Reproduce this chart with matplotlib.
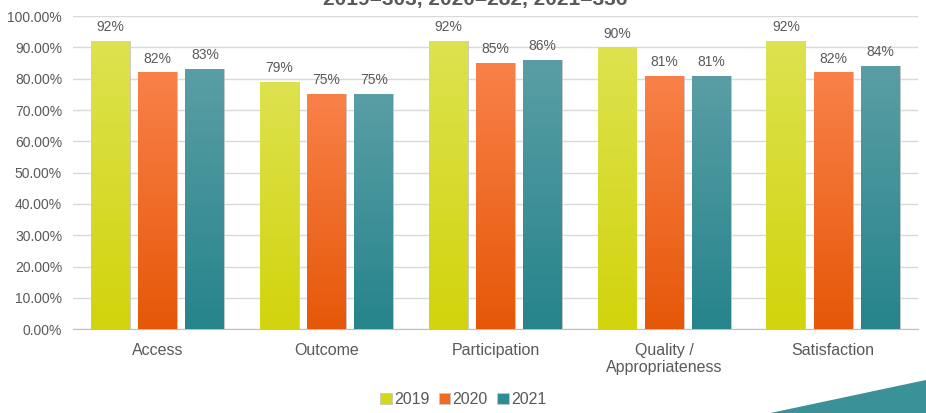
import numpy as np
import matplotlib.pyplot as plt
from matplotlib.colors import LinearSegmentedColormap
from matplotlib.patches import Polygon

plt.rcParams['font.family'] = ['Liberation Sans', 'DejaVu Sans']

categories = ["Access", "Outcome", "Participation", "Quality /\nAppropriateness", "Satisfaction"]
years = ["2019", "2020", "2021"]
v2019 = [92, 79, 92, 90, 92]
v2020 = [82, 75, 85, 81, 82]
v2021 = [83, 75, 86, 81, 84]
title = "2019=303, 2020=282, 2021=336"

# top color, bottom color for the gradient
grad = [("#dde24f", "#d2d40c"), ("#f98149", "#e65808"), ("#5a9ea5", "#26848b")]
legend_cols = ["#d6da16", "#f26a1b", "#2e8d94"]

fig = plt.figure(figsize=(9.26, 4.13), dpi=100)
ax = fig.add_axes([0.079, 0.203, 0.912, 0.758])

x = np.arange(len(categories))
w = 0.23
step = 0.28
gray = "#595959"

for i, vals in enumerate([v2019, v2020, v2021]):
    bars = ax.bar(x + (i - 1) * step, vals, w, color=legend_cols[i], label=years[i],
                  edgecolor="#c8c8c8", linewidth=0.6, zorder=3)
    cmap = LinearSegmentedColormap.from_list("g%d" % i, [grad[i][1], grad[i][0]])
    for b, v in zip(bars, vals):
        x0, h = b.get_x(), b.get_height()
        im = ax.imshow(np.linspace(0, 1, 100).reshape(-1, 1), cmap=cmap, origin="lower",
                       extent=[x0, x0 + w, 0, h], aspect="auto", zorder=4)
        im.set_clip_path(b)
        ax.text(x0 + w / 2, h + 2.2, "%d%%" % v, ha="center", va="bottom",
                fontsize=10, color=gray)

ax.set_xlim(-0.5, len(categories) - 0.5)
ax.set_ylim(0, 100)
ax.set_yticks(np.arange(0, 101, 10))
ax.set_yticklabels(["%.2f%%" % t for t in np.arange(0, 101, 10)])
ax.set_xticks(x)
ax.set_xticklabels(categories, fontsize=11.5, color=gray, linespacing=1.15)
ax.tick_params(axis="y", length=0, labelsize=10, labelcolor=gray, pad=8)
ax.tick_params(axis="x", length=0, pad=10)
ax.yaxis.grid(True, color="#d9d9d9", linewidth=1, zorder=0)
ax.set_axisbelow(True)
for s in ["top", "right", "left"]:
    ax.spines[s].set_visible(False)
ax.spines["bottom"].set_color("#bfbfbf")

ax.legend(loc="center", bbox_to_anchor=(0.462, -0.225), ncol=3, frameon=False,
          fontsize=11.5, handlelength=0.7, handleheight=0.7, handletextpad=0.15,
          columnspacing=0.6, labelcolor=gray, borderpad=0)

fig.text(0.513, 0.988, title, ha="center", va="baseline", fontsize=15,
         fontweight="bold", color=gray)

fig.patches.append(Polygon([[0.832, 0.0], [1.0, 0.08], [1.0, 0.0]], closed=True,
                           transform=fig.transFigure, facecolor="#3a9196",
                           edgecolor="none"))

fig.savefig("out.png", dpi=100)
